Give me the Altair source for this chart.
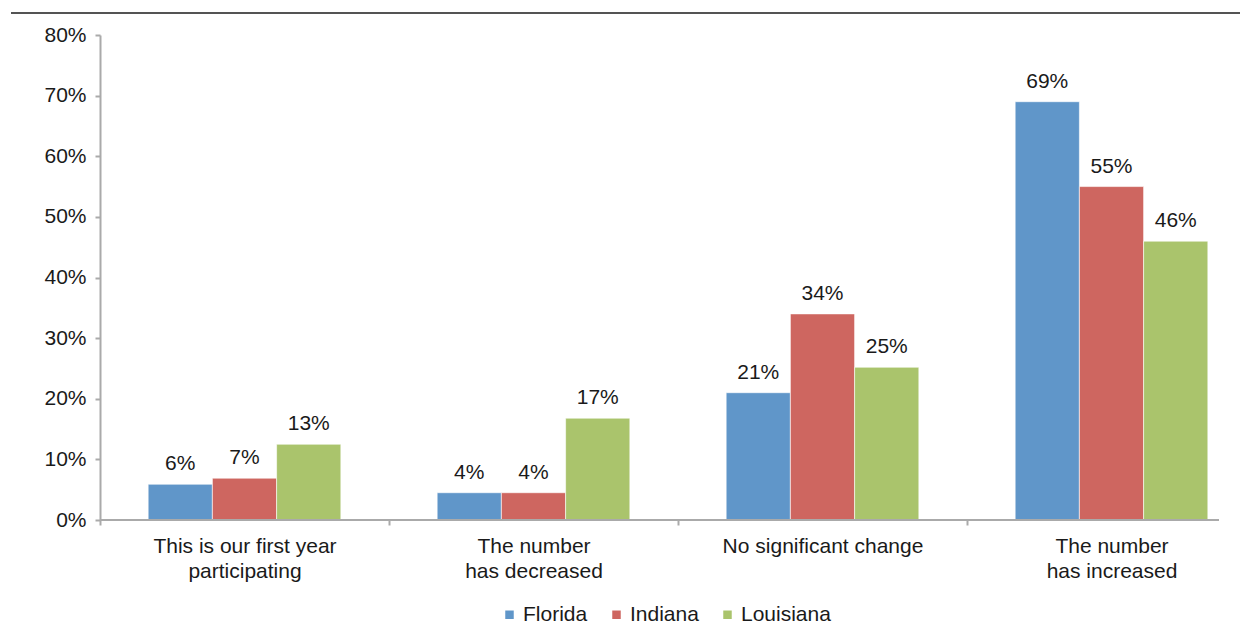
import altair as alt
import pandas as pd

categories = [
    "This is our first year|participating",
    "The number|has decreased",
    "No significant change",
    "The number|has increased",
]
states = ["Florida", "Indiana", "Louisiana"]
florida = [5.9, 4.5, 21.0, 69.0]
indiana = [6.9, 4.5, 34.0, 55.0]
louisiana = [12.5, 16.8, 25.2, 46.0]
florida_labels = ["6%", "4%", "21%", "69%"]
indiana_labels = ["7%", "4%", "34%", "55%"]
louisiana_labels = ["13%", "17%", "25%", "46%"]
y_ticks = [0, 0.1, 0.2, 0.3, 0.4, 0.5, 0.6, 0.7, 0.8]
colors = ["#6096C9", "#CE6660", "#AAC46C"]

rows = []
for st, vals, labs in [("Florida", florida, florida_labels),
                       ("Indiana", indiana, indiana_labels),
                       ("Louisiana", louisiana, louisiana_labels)]:
    for c, v, l in zip(categories, vals, labs):
        rows.append({"category": c, "state": st, "value": v / 100.0, "label": l})
df = pd.DataFrame(rows)

FONT = "Liberation Sans"
FS = 21
W, H = 1119, 485
STEP = 289

x_enc = alt.X(
    "category:N",
    sort=categories,
    scale=alt.Scale(range=[0, STEP * 4], paddingInner=0, paddingOuter=0),
    axis=alt.Axis(
        title=None,
        domain=False,
        ticks=True,
        tickSize=5,
        tickColor="#aaaaaa",
        tickWidth=2,
        tickOffset=-STEP / 2,
        labelOffset=STEP / 2,
        labelAngle=0,
        labelFont=FONT,
        labelFontSize=FS,
        labelColor="#1a1a1a",
        labelPadding=10,
        labelLineHeight=25,
        labelExpr="split(datum.label, '|')",
        labelLimit=400,
    ),
)
xoff_enc = alt.XOffset(
    "state:N", sort=states,
    scale=alt.Scale(paddingInner=0, paddingOuter=0.75),
)
y_enc = alt.Y(
    "value:Q",
    scale=alt.Scale(domain=[0, 0.8], nice=False, zero=True),
    axis=alt.Axis(
        title=None,
        values=y_ticks,
        format=".0%",
        grid=False,
        domain=True,
        domainColor="#aaaaaa",
        domainWidth=2,
        tickColor="#aaaaaa",
        tickWidth=2,
        tickSize=5,
        labelFont=FONT,
        labelFontSize=FS,
        labelColor="#1a1a1a",
        labelPadding=9,
    ),
)
color_enc = alt.Color(
    "state:N", sort=states,
    scale=alt.Scale(domain=states, range=colors),
    legend=alt.Legend(
        title=None,
        orient="none",
        direction="horizontal",
        legendX=399,
        legendY=569,
        symbolType="square",
        symbolSize=72,
        symbolStrokeWidth=0,
        labelFont=FONT,
        labelFontSize=FS,
        labelColor="#1a1a1a",
        labelOffset=3,
        columnPadding=18,
    ),
)

bars = alt.Chart(df).mark_bar(stroke="white", strokeWidth=0.6).encode(
    x=x_enc, xOffset=xoff_enc, y=y_enc, color=color_enc
)
labels = alt.Chart(df).mark_text(
    font=FONT, fontSize=FS, color="#1a1a1a", baseline="alphabetic", dy=-14
).encode(
    x=alt.X("category:N", sort=categories),
    xOffset=alt.XOffset("state:N", sort=states),
    y="value:Q",
    text="label:N",
)
baseline = alt.Chart(df).mark_rule(color="#aaaaaa", strokeWidth=2).encode(
    y=alt.datum(0), x=alt.value(0), x2=alt.value(W)
)
top_rule = alt.Chart(df).mark_rule(color="#555555", strokeWidth=1.5).encode(
    y=alt.value(-22), x=alt.value(-89), x2=alt.value(W + 21)
)

chart = alt.layer(bars, labels, baseline, top_rule).properties(
    width=W, height=H,
    autosize=alt.AutoSizeParams(type="none"),
    padding={"left": 92, "top": 27, "right": 21, "bottom": 106},
).configure(background="white").configure_view(stroke=None)

chart.save("out.html", embed_options={"renderer": "svg", "actions": False})
